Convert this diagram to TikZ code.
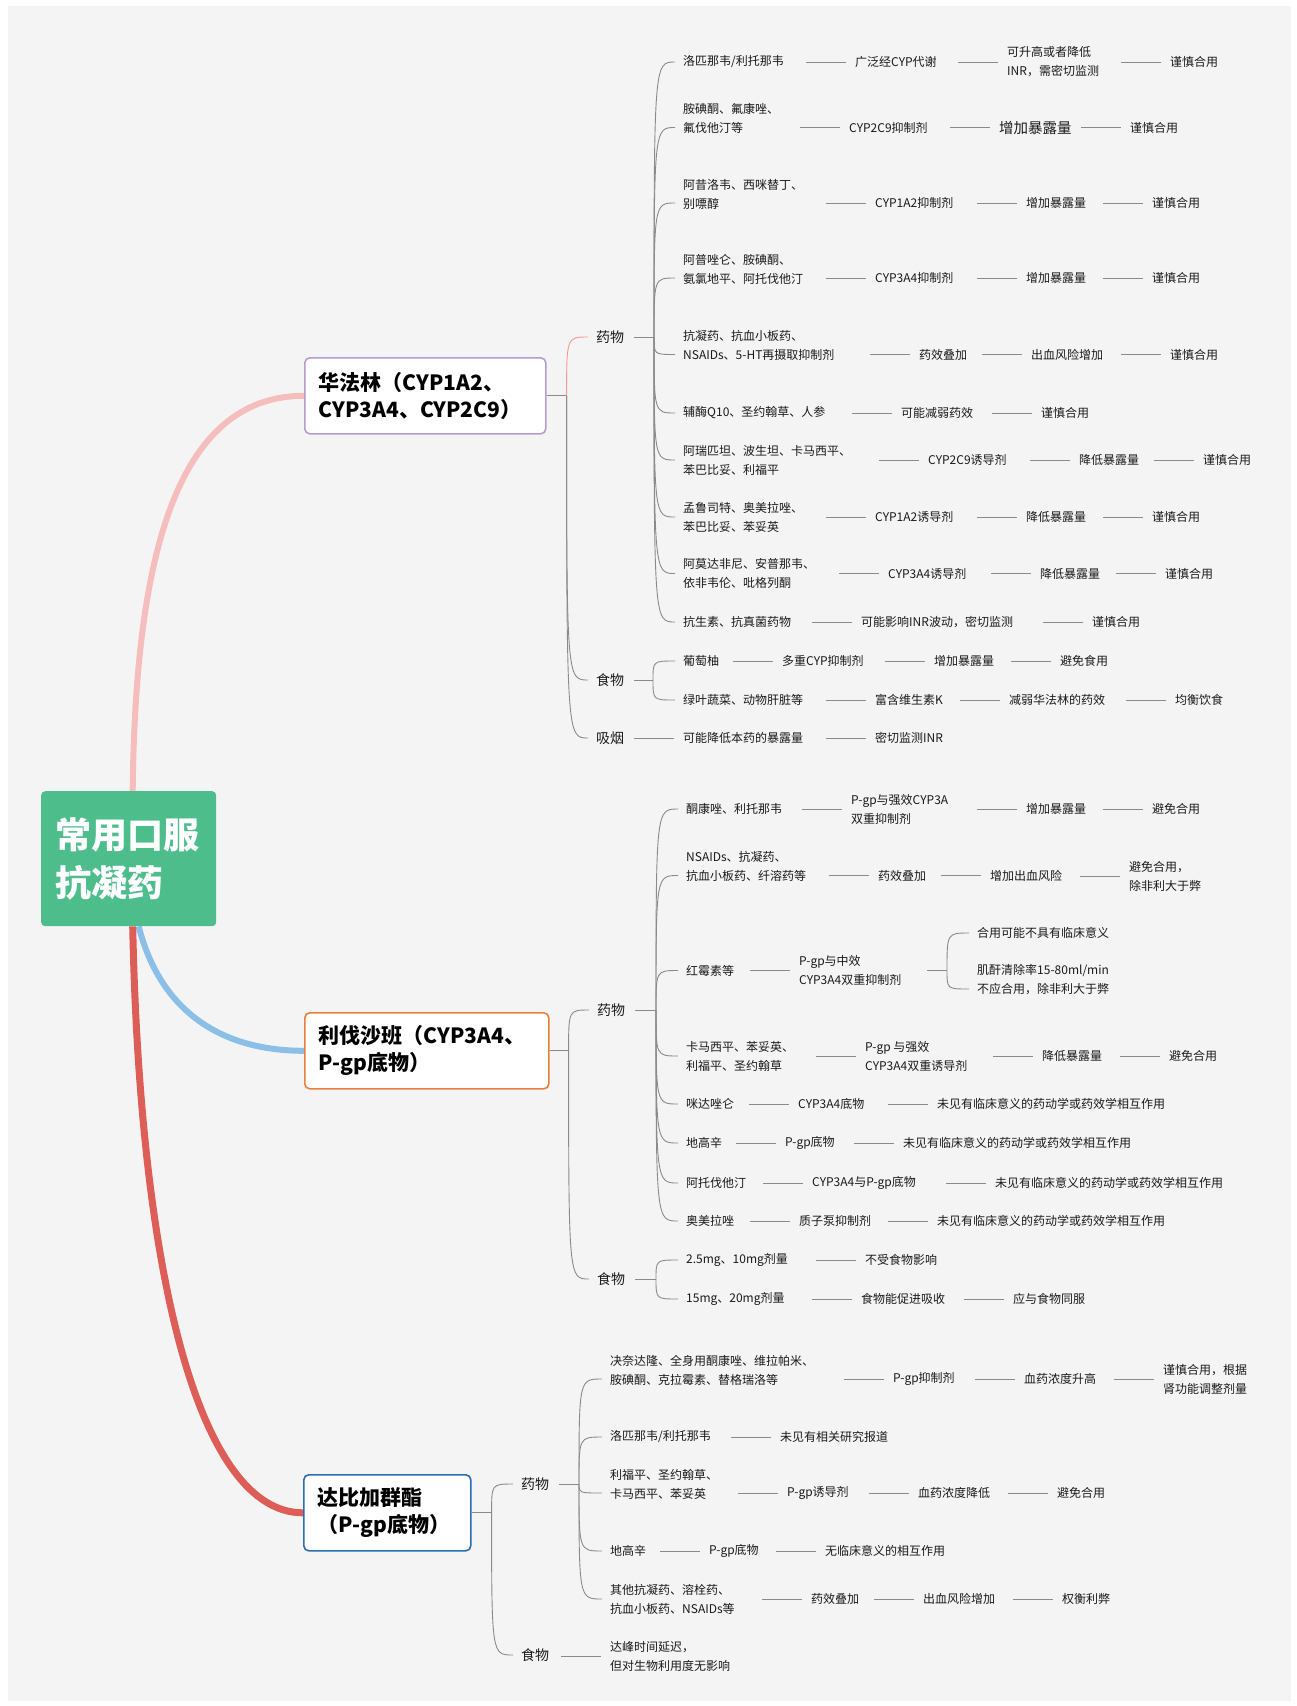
\documentclass[tikz,border=0pt]{standalone}
\usepackage{fontspec}
\setmainfont{Noto Sans CJK SC}
\newfontfamily\hei{Noto Sans CJK SC}
\newfontfamily\heavy{Noto Sans CJK SC}
\usetikzlibrary{backgrounds}
\definecolor{bgc}{HTML}{F4F4F4}
\definecolor{rootc}{HTML}{4DBD8C}
\definecolor{pinkc}{HTML}{F6BDBD}
\definecolor{bluec}{HTML}{8CBFE8}
\definecolor{redc}{HTML}{DD5E56}
\definecolor{purc}{HTML}{B99BD3}
\definecolor{orac}{HTML}{E8803A}
\definecolor{navc}{HTML}{2C6DB2}
\definecolor{lnkc}{HTML}{8A8A8A}
\definecolor{txtc}{HTML}{1A1A1A}
\tikzset{
  leaf/.style={font=\hei\fontsize{12}{19}\selectfont, inner sep=0pt, anchor=west, align=left, text=txtc},
  big/.style={leaf, font=\hei\fontsize{14.5}{19}\selectfont},
  sub/.style={leaf, font=\hei\fontsize{14}{19}\selectfont},
  topic/.style={draw, line width=1.6pt, rounded corners=5pt, fill=white, anchor=north west, align=left,
    inner xsep=14pt, minimum height=76pt, font=\heavy\bfseries\fontsize{21}{27}\selectfont, text=black},
  root/.style={fill=rootc, rounded corners=4pt, anchor=north west, align=left, text=white,
    inner xsep=14pt, minimum width=175pt, minimum height=135pt, text width=147pt,
    font=\heavy\bfseries\fontsize{36}{48}\selectfont},
  link/.style={draw=lnkc, line width=0.9pt},
  pinklink/.style={draw=pinkc!80!red, line width=0.9pt},
  main/.style={line width=6pt}
}
\newcommand\lk[1]{\draw[link] ([xshift=-49pt]#1.west) -- ([xshift=-9pt]#1.west);}
\newcommand\br[4][link]{\draw[#1] (#2) .. controls (#2 |- #4.west) .. ([xshift=-8pt]#3.west |- #4.west);}
\begin{document}
\begin{tikzpicture}[x=1pt,y=-1pt]
\useasboundingbox (0,0) rectangle (1297,1706);
\begin{scope}[on background layer]
\fill[white] (0,0) rectangle (1297,1706);
\fill[bgc] (8,6) rectangle (1291,1701);
\end{scope}

\node[root] (root) at (41,791) {常用口服\\抗凝药};
\node[topic,draw=purc,minimum width=241pt,text width=213pt] (hfl) at (304,357) {华法林（CYP1A2、\\CYP3A4、CYP2C9）};
\node[topic,draw=orac,minimum width=244pt,text width=216pt] (lfsb) at (304,1012) {利伐沙班（CYP3A4、\\P-gp底物）};
\node[topic,draw=navc,minimum width=167pt,text width=139pt] (dbj) at (303,1474) {达比加群酯\\（P-gp底物）};

\node[sub] (wdrug) at (596,337) {药物};
\node[sub] (wfood) at (596,680) {食物};
\node[sub] (wsmoke) at (596,738) {吸烟};
\node[sub] (rdrug) at (597,1010) {药物};
\node[sub] (rfood) at (597,1279) {食物};
\node[sub] (ddrug) at (521,1484) {药物};
\node[sub] (dfood) at (521,1655) {食物};

\node[leaf] (w1a) at (683,62) {洛匹那韦/利托那韦};
\node[leaf] (w1b) at (855,62) {广泛经CYP代谢};
\node[leaf] (w1c) at (1007,62) {可升高或者降低\\INR，需密切监测};
\node[leaf] (w1d) at (1170,62) {谨慎合用};
\node[leaf] (w2a) at (683,118) {胺碘酮、氟康唑、\\氟伐他汀等};
\node[leaf] (w2b) at (849,127.5) {CYP2C9抑制剂};
\node[big] (w2c) at (999,127.5) {增加暴露量};
\node[leaf] (w2d) at (1130,127.5) {谨慎合用};
\node[leaf] (w3a) at (683,194) {阿昔洛韦、西咪替丁、\\别嘌醇};
\node[leaf] (w3b) at (875,203) {CYP1A2抑制剂};
\node[leaf] (w3c) at (1026,203) {增加暴露量};
\node[leaf] (w3d) at (1152,203) {谨慎合用};
\node[leaf] (w4a) at (683,269) {阿普唑仑、胺碘酮、\\氨氯地平、阿托伐他汀};
\node[leaf] (w4b) at (875,278) {CYP3A4抑制剂};
\node[leaf] (w4c) at (1026,278) {增加暴露量};
\node[leaf] (w4d) at (1152,278) {谨慎合用};
\node[leaf] (w5a) at (683,345) {抗凝药、抗血小板药、\\NSAIDs、5-HT再摄取抑制剂};
\node[leaf] (w5b) at (919,354.5) {药效叠加};
\node[leaf] (w5c) at (1031,354.5) {出血风险增加};
\node[leaf] (w5d) at (1170,354.5) {谨慎合用};
\node[leaf] (w6a) at (683,413) {辅酶Q10、圣约翰草、人参};
\node[leaf] (w6b) at (901,413) {可能减弱药效};
\node[leaf] (w6c) at (1041,413) {谨慎合用};
\node[leaf] (w7a) at (683,460) {阿瑞匹坦、波生坦、卡马西平、\\苯巴比妥、利福平};
\node[leaf] (w7b) at (928,460) {CYP2C9诱导剂};
\node[leaf] (w7c) at (1079,460) {降低暴露量};
\node[leaf] (w7d) at (1203,460) {谨慎合用};
\node[leaf] (w8a) at (683,517) {孟鲁司特、奥美拉唑、\\苯巴比妥、苯妥英};
\node[leaf] (w8b) at (875,517) {CYP1A2诱导剂};
\node[leaf] (w8c) at (1026,517) {降低暴露量};
\node[leaf] (w8d) at (1152,517) {谨慎合用};
\node[leaf] (w9a) at (683,573.5) {阿莫达非尼、安普那韦、\\依非韦伦、吡格列酮};
\node[leaf] (w9b) at (888,573.5) {CYP3A4诱导剂};
\node[leaf] (w9c) at (1040,573.5) {降低暴露量};
\node[leaf] (w9d) at (1165,573.5) {谨慎合用};
\node[leaf] (w10a) at (683,622) {抗生素、抗真菌药物};
\node[leaf] (w10b) at (861,622) {可能影响INR波动，密切监测};
\node[leaf] (w10c) at (1092,622) {谨慎合用};

\node[leaf] (wf1a) at (683,661) {葡萄柚};
\node[leaf] (wf1b) at (782,661) {多重CYP抑制剂};
\node[leaf] (wf1c) at (934,661) {增加暴露量};
\node[leaf] (wf1d) at (1060,661) {避免食用};
\node[leaf] (wf2a) at (683,700) {绿叶蔬菜、动物肝脏等};
\node[leaf] (wf2b) at (875,700) {富含维生素K};
\node[leaf] (wf2c) at (1009,700) {减弱华法林的药效};
\node[leaf] (wf2d) at (1175,700) {均衡饮食};
\node[leaf] (ws1) at (683,738) {可能降低本药的暴露量};
\node[leaf] (ws2) at (875,738) {密切监测INR};

\node[leaf] (r1a) at (686,809) {酮康唑、利托那韦};
\node[leaf] (r1b) at (851,809) {P-gp与强效CYP3A\\双重抑制剂};
\node[leaf] (r1c) at (1026,809) {增加暴露量};
\node[leaf] (r1d) at (1152,809) {避免合用};
\node[leaf] (r2a) at (686,866) {NSAIDs、抗凝药、\\抗血小板药、纤溶药等};
\node[leaf] (r2b) at (878,875.5) {药效叠加};
\node[leaf] (r2c) at (990,875.5) {增加出血风险};
\node[leaf] (r2d) at (1129,876) {避免合用，\\除非利大于弊};
\node[leaf] (r3a) at (686,970.5) {红霉素等};
\node[leaf] (r3b) at (799,970.5) {P-gp与中效\\CYP3A4双重抑制剂};
\node[leaf] (r3c) at (977,933) {合用可能不具有临床意义};
\node[leaf] (r3d) at (977,980) {肌酐清除率15-80ml/min\\不应合用，除非利大于弊};
\node[leaf] (r4a) at (686,1056) {卡马西平、苯妥英、\\利福平、圣约翰草};
\node[leaf] (r4b) at (865,1056) {P-gp 与强效\\CYP3A4双重诱导剂};
\node[leaf] (r4c) at (1042,1056) {降低暴露量};
\node[leaf] (r4d) at (1169,1056) {避免合用};
\node[leaf] (r5a) at (686,1104) {咪达唑仑};
\node[leaf] (r5b) at (798,1104) {CYP3A4底物};
\node[leaf] (r5c) at (937,1104) {未见有临床意义的药动学或药效学相互作用};
\node[leaf] (r6a) at (686,1143) {地高辛};
\node[leaf] (r6b) at (785,1143) {P-gp底物};
\node[leaf] (r6c) at (903,1143) {未见有临床意义的药动学或药效学相互作用};
\node[leaf] (r7a) at (686,1183) {阿托伐他汀};
\node[leaf] (r7b) at (812,1183) {CYP3A4与P-gp底物};
\node[leaf] (r7c) at (995,1183) {未见有临床意义的药动学或药效学相互作用};
\node[leaf] (r8a) at (686,1221) {奥美拉唑};
\node[leaf] (r8b) at (799,1221) {质子泵抑制剂};
\node[leaf] (r8c) at (937,1221) {未见有临床意义的药动学或药效学相互作用};
\node[leaf] (rf1a) at (686,1260) {2.5mg、10mg剂量};
\node[leaf] (rf1b) at (865,1260) {不受食物影响};
\node[leaf] (rf2a) at (686,1299) {15mg、20mg剂量};
\node[leaf] (rf2b) at (861,1299) {食物能促进吸收};
\node[leaf] (rf2c) at (1013,1299) {应与食物同服};

\node[leaf] (d1a) at (610,1370) {决奈达隆、全身用酮康唑、维拉帕米、\\胺碘酮、克拉霉素、替格瑞洛等};
\node[leaf] (d1b) at (893,1379) {P-gp抑制剂};
\node[leaf] (d1c) at (1024,1379) {血药浓度升高};
\node[leaf] (d1d) at (1163,1379) {谨慎合用，根据\\肾功能调整剂量};
\node[leaf] (d2a) at (610,1437) {洛匹那韦/利托那韦};
\node[leaf] (d2b) at (780,1437) {未见有相关研究报道};
\node[leaf] (d3a) at (610,1484) {利福平、圣约翰草、\\卡马西平、苯妥英};
\node[leaf] (d3b) at (787,1493) {P-gp诱导剂};
\node[leaf] (d3c) at (918,1493) {血药浓度降低};
\node[leaf] (d3d) at (1057,1493) {避免合用};
\node[leaf] (d4a) at (610,1551) {地高辛};
\node[leaf] (d4b) at (709,1551) {P-gp底物};
\node[leaf] (d4c) at (825,1551) {无临床意义的相互作用};
\node[leaf] (d5a) at (610,1599) {其他抗凝药、溶栓药、\\抗血小板药、NSAIDs等};
\node[leaf] (d5b) at (811,1599) {药效叠加};
\node[leaf] (d5c) at (923,1599) {出血风险增加};
\node[leaf] (d5d) at (1062,1599) {权衡利弊};
\node[leaf] (df) at (610,1656) {达峰时间延迟，\\但对生物利用度无影响};

\begin{scope}[on background layer]
\draw[main,pinkc] ([xshift=4pt]root.north) .. controls +(2.5,-231) and +(-129,0) .. (hfl.west);
\draw[main,bluec] ([xshift=10pt]root.south) .. controls +(21.5,84) and +(-84,0) .. (lfsb.west);
\draw[main,redc,line width=7pt] ([xshift=4pt]root.south) .. controls +(7.5,354) and +(-103,0) .. (dbj.west);

\coordinate (hj) at ([xshift=20pt]hfl.east);
\draw[link] (hfl.east) -- (hj);
\br[pinklink]{hj}{wdrug}{wdrug}
\br{hj}{wfood}{wfood}
\br{hj}{wsmoke}{wsmoke}
\coordinate (wj) at ([xshift=-29pt]w1a.west |- wdrug.west);
\draw[link] ([xshift=10pt]wdrug.east) -- (wj);
\br{wj}{w1a}{w1b}
\br{wj}{w2a}{w2b}
\br{wj}{w3a}{w3b}
\br{wj}{w4a}{w4b}
\br{wj}{w5a}{w5b}
\br{wj}{w6a}{w6b}
\br{wj}{w7a}{w7b}
\br{wj}{w8a}{w8b}
\br{wj}{w9a}{w9b}
\br{wj}{w10a}{w10b}
\lk{w1b}\lk{w1c}\lk{w1d}
\lk{w2b}\lk{w2c}\lk{w2d}
\lk{w3b}\lk{w3c}\lk{w3d}
\lk{w4b}\lk{w4c}\lk{w4d}
\lk{w5b}\lk{w5c}\lk{w5d}
\lk{w6b}\lk{w6c}
\lk{w7b}\lk{w7c}\lk{w7d}
\lk{w8b}\lk{w8c}\lk{w8d}
\lk{w9b}\lk{w9c}\lk{w9d}
\lk{w10b}\lk{w10c}
\coordinate (wfj) at ([xshift=-30pt]wf1a.west |- wfood.west);
\draw[link] ([xshift=10pt]wfood.east) -- (wfj);
\br{wfj}{wf1a}{wf1b}
\br{wfj}{wf2a}{wf2b}
\lk{wf1b}\lk{wf1c}\lk{wf1d}
\lk{wf2b}\lk{wf2c}\lk{wf2d}
\lk{ws1}\lk{ws2}

\coordinate (lj) at ([xshift=19pt]lfsb.east);
\draw[link] (lfsb.east) -- (lj);
\br{lj}{rdrug}{rdrug}
\br{lj}{rfood}{rfood}
\coordinate (rj) at ([xshift=-30pt]r1a.west |- rdrug.west);
\draw[link] ([xshift=10pt]rdrug.east) -- (rj);
\br{rj}{r1a}{r1b}
\br{rj}{r2a}{r2b}
\br{rj}{r3a}{r3b}
\br{rj}{r4a}{r4b}
\br{rj}{r5a}{r5b}
\br{rj}{r6a}{r6b}
\br{rj}{r7a}{r7b}
\br{rj}{r8a}{r8b}
\lk{r1b}\lk{r1c}\lk{r1d}
\lk{r2b}\lk{r2c}\lk{r2d}
\lk{r3b}
\coordinate (rj3) at ([xshift=-30pt]r3c.west |- r3b.west);
\draw[link] ([xshift=-20pt]rj3) -- (rj3);
\br{rj3}{r3c}{r3c}
\coordinate (r3e) at ([yshift=-9pt]r3d.west);
\draw[link] (rj3) .. controls (rj3 |- r3e) .. ([xshift=-8pt]r3e);
\lk{r4b}\lk{r4c}\lk{r4d}
\lk{r5b}\lk{r5c}
\lk{r6b}\lk{r6c}
\lk{r7b}\lk{r7c}
\lk{r8b}\lk{r8c}
\coordinate (rfj) at ([xshift=-30pt]rf1a.west |- rfood.west);
\draw[link] ([xshift=10pt]rfood.east) -- (rfj);
\br{rfj}{rf1a}{rf1b}
\br{rfj}{rf2a}{rf2b}
\lk{rf1b}
\lk{rf2b}\lk{rf2c}

\coordinate (dj) at ([xshift=20pt]dbj.east);
\draw[link] (dbj.east) -- (dj);
\br{dj}{ddrug}{ddrug}
\br{dj}{dfood}{dfood}
\coordinate (ddj) at ([xshift=-31pt]d1a.west |- ddrug.west);
\draw[link] ([xshift=10pt]ddrug.east) -- (ddj);
\br{ddj}{d1a}{d1b}
\br{ddj}{d2a}{d2b}
\br{ddj}{d3a}{d3b}
\br{ddj}{d4a}{d4b}
\br{ddj}{d5a}{d5b}
\lk{d1b}\lk{d1c}\lk{d1d}
\lk{d2b}
\lk{d3b}\lk{d3c}\lk{d3d}
\lk{d4b}\lk{d4c}
\lk{d5b}\lk{d5c}\lk{d5d}
\lk{df}
\end{scope}
\end{tikzpicture}
\end{document}
